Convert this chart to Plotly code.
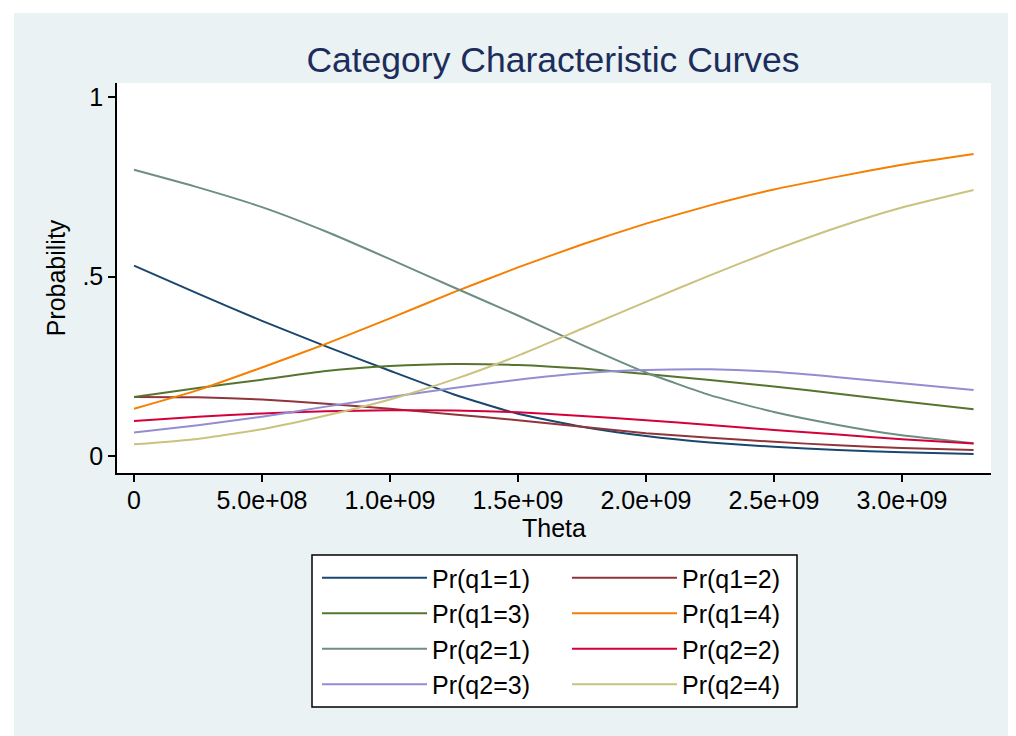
import plotly.graph_objects as go

# ---------------- data ----------------
theta = [0, 2.5e8, 5e8, 7.5e8, 1.0e9, 1.25e9, 1.5e9, 1.75e9, 2.0e9, 2.25e9,
         2.5e9, 2.75e9, 3.0e9, 3.28e9]

pr_q1_1 = [0.531, 0.453, 0.377, 0.306, 0.238, 0.172, 0.118, 0.082, 0.056, 0.038,
           0.026, 0.017, 0.011, 0.006]
pr_q1_2 = [0.165, 0.164, 0.158, 0.146, 0.132, 0.116, 0.100, 0.082, 0.064, 0.051,
           0.040, 0.030, 0.023, 0.017]
pr_q1_3 = [0.165, 0.190, 0.213, 0.237, 0.251, 0.257, 0.254, 0.244, 0.229, 0.212,
           0.194, 0.174, 0.153, 0.131]
pr_q1_4 = [0.132, 0.184, 0.247, 0.313, 0.384, 0.457, 0.526, 0.590, 0.648, 0.699,
           0.743, 0.779, 0.812, 0.842]
pr_q2_1 = [0.798, 0.749, 0.694, 0.626, 0.549, 0.470, 0.392, 0.310, 0.233, 0.170,
           0.123, 0.087, 0.058, 0.036]
pr_q2_2 = [0.098, 0.110, 0.119, 0.125, 0.128, 0.127, 0.122, 0.112, 0.100, 0.087,
           0.073, 0.060, 0.047, 0.035]
pr_q2_3 = [0.066, 0.086, 0.110, 0.138, 0.165, 0.190, 0.213, 0.231, 0.240, 0.242,
           0.235, 0.220, 0.203, 0.184]
pr_q2_4 = [0.033, 0.048, 0.075, 0.113, 0.158, 0.214, 0.280, 0.355, 0.430, 0.504,
           0.574, 0.638, 0.693, 0.742]

series_names = ["Pr(q1=1)", "Pr(q1=2)", "Pr(q1=3)", "Pr(q1=4)",
                "Pr(q2=1)", "Pr(q2=2)", "Pr(q2=3)", "Pr(q2=4)"]
series_values = [pr_q1_1, pr_q1_2, pr_q1_3, pr_q1_4,
                 pr_q2_1, pr_q2_2, pr_q2_3, pr_q2_4]
series_colors = ["#1a476f", "#90353b", "#55752f", "#f57f00",
                 "#6e8e84", "#d4003a", "#938dd2", "#cac27e"]

x_tickvals = [0, 5e8, 1e9, 1.5e9, 2e9, 2.5e9, 3e9]
x_ticktext = ["0", "5.0e+08", "1.0e+09", "1.5e+09", "2.0e+09", "2.5e+09", "3.0e+09"]
y_tickvals = [0, 0.5, 1]
y_ticktext = ["0", ".5", "1"]

# ---------------- layout geometry (figure pixels; page adds 8px body margin) ----------------
W, H = 1008, 728
OFF = 8
PL, PR, PT, PB = 117 - OFF, 991 - OFF, 83 - OFF, 473 - OFF
pw, ph = PR - PL, PB - PT


def fx(sx):
    return (sx - OFF - PL) / pw


def fy(sy):
    return (PB - (sy - OFF)) / ph


FONT = "Liberation Sans, Arial, sans-serif"
BG = "#eaf2f3"

fig = go.Figure()

for i, (name, vals, col) in enumerate(zip(series_names, series_values, series_colors)):
    fig.add_trace(go.Scatter(
        x=theta, y=vals, name=name, mode="lines",
        line=dict(color=col, width=2, shape="spline", smoothing=0.5),
        legend="legend" if i % 2 == 0 else "legend2",
        legendgroup=name,
        hoverinfo="skip",
    ))

legend_common = dict(
    bgcolor="rgba(0,0,0,0)", borderwidth=0,
    font=dict(family=FONT, size=25, color="black"),
    itemwidth=105, tracegroupgap=0, traceorder="grouped",
    xref="paper", yref="paper", xanchor="left", yanchor="top",
)

fig.update_layout(
    width=W, height=H,
    margin=dict(l=PL, r=W - PR, t=PT, b=H - PB, pad=0),
    paper_bgcolor="white",
    plot_bgcolor="white",
    font=dict(family=FONT, size=25, color="black"),
    title=dict(text="Category Characteristic Curves",
               font=dict(family=FONT, size=35.5, color="#1c2d5c"),
               xref="paper", x=fx(553), xanchor="center",
               yref="container", y=1 - (60 - OFF) / H, yanchor="middle"),
    showlegend=True,
    legend=dict(x=fx(317), y=fy(555), **legend_common),
    legend2=dict(x=fx(567), y=fy(555), **legend_common),
    xaxis=dict(
        range=[-6.64e7, 3.348e9], tickmode="array",
        tickvals=x_tickvals, ticktext=x_ticktext,
        ticks="outside", ticklen=7, tickwidth=1.5, tickcolor="black",
        showline=True, linecolor="black", linewidth=1.5,
        showgrid=False, zeroline=False,
        ticklabelstandoff=-3,
        tickfont=dict(family=FONT, size=25, color="black"),
        title=dict(text="Theta", font=dict(family=FONT, size=25, color="black"),
                   standoff=0),
        automargin=False,
    ),
    yaxis=dict(
        range=[-0.047, 1.040], tickmode="array",
        tickvals=y_tickvals, ticktext=y_ticktext,
        ticks="outside", ticklen=7, tickwidth=1.5, tickcolor="black",
        showline=True, linecolor="black", linewidth=1.5,
        showgrid=False, zeroline=False,
        tickfont=dict(family=FONT, size=25, color="black"),
        title=dict(text="Probability", font=dict(family=FONT, size=25, color="black"),
                   standoff=10),
        automargin=False,
    ),
    yaxis2=dict(
        overlaying="y", range=[-0.047, 1.040], tickmode="array",
        tickvals=[0, 0.5], showticklabels=False, ticks="",
        showgrid=True, gridcolor=BG, gridwidth=2,
        showline=False, zeroline=False,
    ),
    shapes=[
        dict(type="rect", xref="paper", yref="paper", layer="below",
             x0=fx(14), x1=fx(W + 40), y0=fy(H + 40), y1=fy(13),
             fillcolor=BG, line=dict(width=0)),
        dict(type="rect", xref="paper", yref="paper", layer="below",
             x0=0, x1=1, y0=0, y1=1, fillcolor="white", line=dict(width=0)),
        dict(type="rect", xref="paper", yref="paper", layer="below",
             x0=fx(312), x1=fx(797), y0=fy(707), y1=fy(555),
             fillcolor="white", line=dict(color="black", width=1.5)),
    ],
)

fig.write_html("out.html")
